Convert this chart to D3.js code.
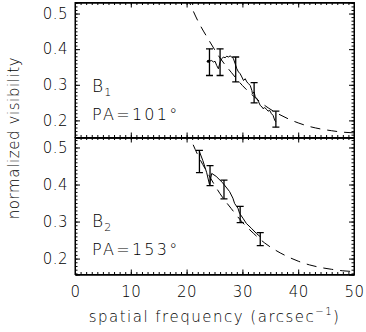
<!DOCTYPE html>
<html>
<head>
<meta charset="utf-8">
<script src="https://cdn.jsdelivr.net/npm/d3@7"></script>
<style>
  body { margin: 0; background: #fff; }
  text { font-family: "DejaVu Sans", sans-serif; font-weight: 200; fill: #000; }
</style>
</head>
<body>
<svg id="chart" width="366" height="332"></svg>
<script>
// model curve (dashed), same in both panels
const modelFreq = [20, 22, 24, 26, 28, 30, 32, 34, 36, 38, 40, 42, 44, 46, 48, 50];
const modelVis  = [0.55, 0.48, 0.425, 0.375, 0.335, 0.298, 0.268, 0.242, 0.222, 0.206, 0.193, 0.183, 0.176, 0.171, 0.167, 0.165];

// B1 measured visibility
const b1Freq = [23.9, 24.5, 24.8, 25.1, 25.4, 25.7, 26.0, 26.3, 26.6, 26.9, 27.2, 27.5, 27.8, 28.1, 28.4, 28.7, 29.0, 29.3, 29.6, 29.9,
                30.2, 30.5, 30.8, 31.1, 31.4, 31.7, 31.8, 32.1, 32.3, 32.6, 32.9, 33.2, 33.5, 33.7, 34.0, 34.4, 34.6, 34.9, 35.2, 35.5, 35.8, 36.0];
const b1Vis  = [0.366, 0.368, 0.364, 0.366, 0.354, 0.345, 0.364, 0.373, 0.378, 0.376, 0.380, 0.378, 0.381, 0.378, 0.373, 0.359, 0.345, 0.336, 0.331, 0.322,
                0.312, 0.317, 0.308, 0.303, 0.298, 0.284, 0.275, 0.280, 0.266, 0.261, 0.252, 0.242, 0.238, 0.233, 0.236, 0.230, 0.226, 0.228, 0.219, 0.214, 0.200, 0.196];
const b1ErrFreq = [24.1, 26.0, 28.8, 32.1, 36.0];
const b1ErrLow  = [0.326, 0.326, 0.308, 0.249, 0.181];
const b1ErrHigh = [0.401, 0.401, 0.378, 0.306, 0.226];

// B2 measured visibility
const b2Freq = [22.3, 22.9, 23.6, 24.1, 24.5, 25.3, 26.5, 27.7, 28.3, 28.6, 29.2, 29.5, 30.1, 30.7, 31.6, 32.5, 33.2];
const b2Vis  = [0.489, 0.465, 0.432, 0.400, 0.430, 0.422, 0.404, 0.381, 0.363, 0.349, 0.336, 0.322, 0.309, 0.295, 0.282, 0.268, 0.259];
const b2ErrFreq = [22.3, 24.2, 26.7, 29.6, 33.2];
const b2ErrLow  = [0.432, 0.397, 0.361, 0.297, 0.235];
const b2ErrHigh = [0.492, 0.451, 0.412, 0.341, 0.270];

const xTicks = [0, 10, 20, 30, 40, 50];
const yTicks = [0.2, 0.3, 0.4, 0.5];

const svg = d3.select("#chart");
const left = 75, right = 354;

const x = d3.scaleLinear().domain([0, 50]).range([left, right]);
const xMinor = d3.range(0, 51, 1);
const yMinor = d3.range(0.15, 0.56, 0.01).map(v => +v.toFixed(2));

const panels = [
    { top: 2.5, bottom: 137.5, domain: [0.152, 0.531], freq: b1Freq, vis: b1Vis,
      errF: b1ErrFreq, errLo: b1ErrLow, errHi: b1ErrHigh, sub: "1", pa: "PA=101°", labels: false },
    { top: 137.5, bottom: 274.5, domain: [0.157, 0.527], freq: b2Freq, vis: b2Vis,
      errF: b2ErrFreq, errLo: b2ErrLow, errHi: b2ErrHigh, sub: "2", pa: "PA=153°", labels: true }
];

function styleAxis(g) {
    g.selectAll("path").attr("stroke", "#000").attr("stroke-width", 1);
    g.selectAll("line").attr("stroke", "#000").attr("stroke-width", 1);
    g.selectAll("text").attr("font-size", 15).style("letter-spacing", "0.5px");
}

panels.forEach((p, i) => {
    const y = d3.scaleLinear().domain(p.domain).range([p.bottom, p.top]);
    const g = svg.append("g");
    const yMin = yMinor.filter(v => v >= p.domain[0] && v <= p.domain[1]);
    const xMinorIn = xMinor;

    // clip to the panel frame
    g.append("clipPath").attr("id", "clip" + i)
        .append("rect").attr("x", left).attr("y", p.top)
        .attr("width", right - left).attr("height", p.bottom - p.top);

    // minor ticks
    g.append("g").attr("transform", `translate(${left},0)`)
        .call(d3.axisLeft(y).tickValues(yMin).tickSize(-2.5).tickFormat(""))
        .call(styleAxis);
    g.append("g").attr("transform", `translate(${right},0)`)
        .call(d3.axisRight(y).tickValues(yMin).tickSize(-2.5).tickFormat(""))
        .call(styleAxis);
    g.append("g").attr("transform", `translate(0,${p.top})`)
        .call(d3.axisTop(x).tickValues(xMinorIn).tickSize(-2.5).tickFormat(""))
        .call(styleAxis);
    g.append("g").attr("transform", `translate(0,${p.bottom})`)
        .call(d3.axisBottom(x).tickValues(xMinorIn).tickSize(-2.5).tickFormat(""))
        .call(styleAxis);

    // major ticks
    g.append("g").attr("transform", `translate(${left},0)`)
        .call(d3.axisLeft(y).tickValues(yTicks).tickSize(-5).tickPadding(7).tickFormat(d3.format(".1f")))
        .call(styleAxis);
    g.append("g").attr("transform", `translate(${right},0)`)
        .call(d3.axisRight(y).tickValues(yTicks).tickSize(-5).tickFormat(""))
        .call(styleAxis);
    g.append("g").attr("transform", `translate(0,${p.top})`)
        .call(d3.axisTop(x).tickValues(xTicks).tickSize(-5).tickFormat(""))
        .call(styleAxis);
    const xb = g.append("g").attr("transform", `translate(0,${p.bottom})`)
        .call(d3.axisBottom(x).tickValues(xTicks).tickSize(-5).tickPadding(12)
            .tickFormat(p.labels ? d3.format("d") : ""))
        .call(styleAxis);

    // frame
    g.append("rect").attr("x", left).attr("y", p.top)
        .attr("width", right - left).attr("height", p.bottom - p.top)
        .attr("fill", "none").attr("stroke", "#000").attr("stroke-width", 1);

    const plot = g.append("g").attr("clip-path", `url(#clip${i})`);

    // model
    plot.append("path")
        .datum(modelFreq.map((f, k) => [f, modelVis[k]]))
        .attr("fill", "none").attr("stroke", "#000").attr("stroke-width", 1)
        .attr("stroke-dasharray", "10,7")
        .attr("d", d3.line().x(d => x(d[0])).y(d => y(d[1])).curve(d3.curveMonotoneX));

    // measured
    plot.append("path")
        .datum(p.freq.map((f, k) => [f, p.vis[k]]))
        .attr("fill", "none").attr("stroke", "#000").attr("stroke-width", 1)
        .attr("d", d3.line().x(d => x(d[0])).y(d => y(d[1])));

    if (i === 0) {
        plot.append("circle").attr("cx", x(p.freq[0])).attr("cy", y(p.vis[0]))
            .attr("r", 1.6).attr("fill", "#000");
    }

    // error bars
    const eb = plot.selectAll(".err").data(p.errF).enter().append("g").attr("class", "err");
    eb.append("line")
        .attr("x1", d => x(d)).attr("x2", d => x(d))
        .attr("y1", (d, k) => y(p.errLo[k])).attr("y2", (d, k) => y(p.errHi[k]));
    eb.append("line")
        .attr("x1", d => x(d) - 3.5).attr("x2", d => x(d) + 3.5)
        .attr("y1", (d, k) => y(p.errLo[k])).attr("y2", (d, k) => y(p.errLo[k]));
    eb.append("line")
        .attr("x1", d => x(d) - 3.5).attr("x2", d => x(d) + 3.5)
        .attr("y1", (d, k) => y(p.errHi[k])).attr("y2", (d, k) => y(p.errHi[k]));
    eb.selectAll("line").attr("stroke", "#000").attr("stroke-width", 1.3);

    // annotations
    const b = g.append("text").attr("x", left + 17).attr("y", p.top + 89.5)
        .attr("font-size", 17).style("letter-spacing", "1px").text("B");
    b.append("tspan").attr("font-size", 11).attr("dy", 4).text(p.sub);
    g.append("text").attr("x", left + 17).attr("y", p.top + 117.5)
        .attr("font-size", 16).style("letter-spacing", "2.3px").text(p.pa);
});

// axis titles
const xt = svg.append("text").attr("x", x(25)).attr("y", 322)
    .attr("text-anchor", "middle").attr("font-size", 15).style("letter-spacing", "1.5px")
    .text("spatial frequency (arcsec");
xt.append("tspan").attr("font-size", 10).attr("dy", -7).text("−1");
xt.append("tspan").attr("dy", 7).text(")");

svg.append("text")
    .attr("transform", `translate(19,${138}) rotate(-90)`)
    .attr("text-anchor", "middle").attr("font-size", 15).style("letter-spacing", "0.6px")
    .text("normalized visibility");
</script>
</body>
</html>
